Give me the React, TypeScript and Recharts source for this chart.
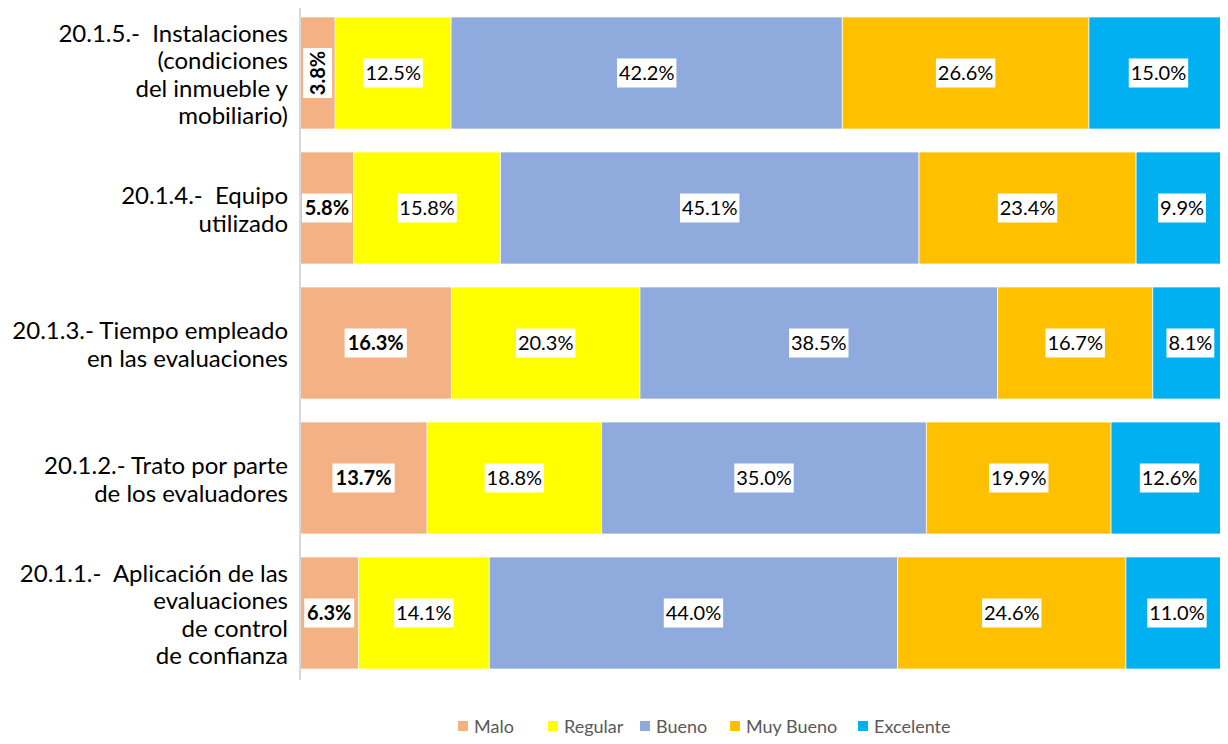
import React from "react";
import { BarChart, Bar, XAxis, YAxis, LabelList, Legend } from "recharts";

const categories = [
  "20.1.5.-  Instalaciones\n(condiciones\ndel inmueble y\nmobiliario)",
  "20.1.4.-  Equipo\nutilizado",
  "20.1.3.- Tiempo empleado\nen las evaluaciones",
  "20.1.2.- Trato por parte\nde los evaluadores",
  "20.1.1.-  Aplicación de las\nevaluaciones\nde control\nde confianza",
];
const malo = [3.8, 5.8, 16.3, 13.7, 6.3];
const regular = [12.5, 15.8, 20.3, 18.8, 14.1];
const bueno = [42.2, 45.1, 38.5, 35.0, 44.0];
const muyBueno = [26.6, 23.4, 16.7, 19.9, 24.6];
const excelente = [15.0, 9.9, 8.1, 12.6, 11.0];

const seriesNames = ["Malo", "Regular", "Bueno", "Muy Bueno", "Excelente"];
const seriesKeys = ["malo", "regular", "bueno", "muyBueno", "excelente"];
const seriesValues = [malo, regular, bueno, muyBueno, excelente];
const seriesColors = ["#F4B183", "#FFFF00", "#8FAADC", "#FFC000", "#00B0F0"];
const legendSlotWidths = [90, 92, 90, 128, 100];

const data = categories.map((name, i) => {
  const row: any = { name };
  seriesKeys.forEach((k, s) => {
    row[k] = seriesValues[s][i];
  });
  return row;
});

const FONT = "Lato, 'Noto Sans', sans-serif";

function textWidth(str: string, bold: boolean) {
  let w = 0;
  for (const ch of str) {
    if (ch === ".") w += 4.8;
    else if (ch === "%") w += 16.8;
    else w += 11.6;
  }
  return bold ? w * 1.05 : w;
}

const makeLabel = (s: number) => (props: any) => {
  const { x, y, width, height, index } = props;
  const v = seriesValues[s][index];
  const str = v.toFixed(1) + "%";
  const bold = s === 0;
  const tw = textWidth(str, bold);
  const cx = x + width / 2;
  const cy = y + height / 2;
  const boxW = tw + 3;
  const boxH = 29;
  if (width < boxW + 2) {
    return (
      <g transform={`translate(${cx},${cy}) rotate(-90)`}>
        <rect x={-boxW / 2} y={-boxH / 2} width={boxW} height={boxH} fill="#fff" />
        <text
          x={0}
          y={0}
          dy="0.35em"
          textAnchor="middle"
          fontFamily={FONT}
          fontSize={20}
          fontWeight={bold ? 700 : 400}
          fill="#000"
        >
          {str}
        </text>
      </g>
    );
  }
  return (
    <g>
      <rect x={cx - boxW / 2} y={cy - boxH / 2} width={boxW} height={boxH} fill="#fff" />
      <text
        x={cx}
        y={cy}
        dy="0.35em"
        textAnchor="middle"
        fontFamily={FONT}
        fontSize={20}
        fontWeight={bold ? 700 : 400}
        fill="#000"
      >
        {str}
      </text>
    </g>
  );
};

const CategoryTick = (props: any) => {
  const { y, payload } = props;
  const lines = String(payload.value).split("\n");
  const lh = 27.5;
  const startY = y + 2 - ((lines.length - 1) * lh) / 2;
  return (
    <text
      x={288}
      y={startY}
      textAnchor="end"
      fontFamily={FONT}
      fontSize={24}
      fill="#000"
    >
      {lines.map((l, i) => (
        <tspan key={i} x={288} y={startY + i * lh} dy="0.35em" style={{ whiteSpace: "pre" }}>
          {l}
        </tspan>
      ))}
    </text>
  );
};

const LegendContent = () => (
  <div
    style={{
      display: "flex",
      alignItems: "center",
      marginLeft: 458,
      height: 24,
      lineHeight: "24px",
      fontFamily: FONT,
      fontSize: 18,
      color: "#595959",
    }}
  >
    {seriesNames.map((n, i) => (
      <div
        key={n}
        style={{ display: "flex", alignItems: "center", width: legendSlotWidths[i] }}
      >
        <span
          style={{
            display: "inline-block",
            width: 10,
            height: 10,
            background: seriesColors[i],
            marginRight: 6,
          }}
        />
        <span style={{ whiteSpace: "nowrap" }}>{n}</span>
      </div>
    ))}
  </div>
);

export default function App() {
  return (
    <div style={{ marginLeft: -8, marginTop: -8, marginBottom: -8, width: 1228, height: 744, background: "#fff" }}>
      <BarChart
        width={1228}
        height={744}
        data={data}
        layout="vertical"
        stackOffset="expand"
        margin={{ top: 5, right: 0, left: 0, bottom: 40 }}
      >
        <XAxis type="number" hide domain={[0, 1]} />
        <YAxis
          type="category"
          dataKey="name"
          width={300}
          axisLine={{ stroke: "#D9D9D9", strokeWidth: 2 }}
          tickLine={false}
          tick={<CategoryTick />}
          interval={0}
        />
        <Legend
          verticalAlign="bottom"
          align="left"
          content={<LegendContent />}
          wrapperStyle={{ left: 0, bottom: 6, width: 1228, height: 24 }}
        />
        {seriesKeys.map((k, s) => (
          <Bar
            key={k}
            dataKey={k}
            name={seriesNames[s]}
            stackId="a"
            fill={seriesColors[s]}
            stroke="#fff"
            strokeWidth={0.7}
            barSize={112}
            isAnimationActive={false}
          >
            <LabelList dataKey={k} content={makeLabel(s)} />
          </Bar>
        ))}
      </BarChart>
    </div>
  );
}
